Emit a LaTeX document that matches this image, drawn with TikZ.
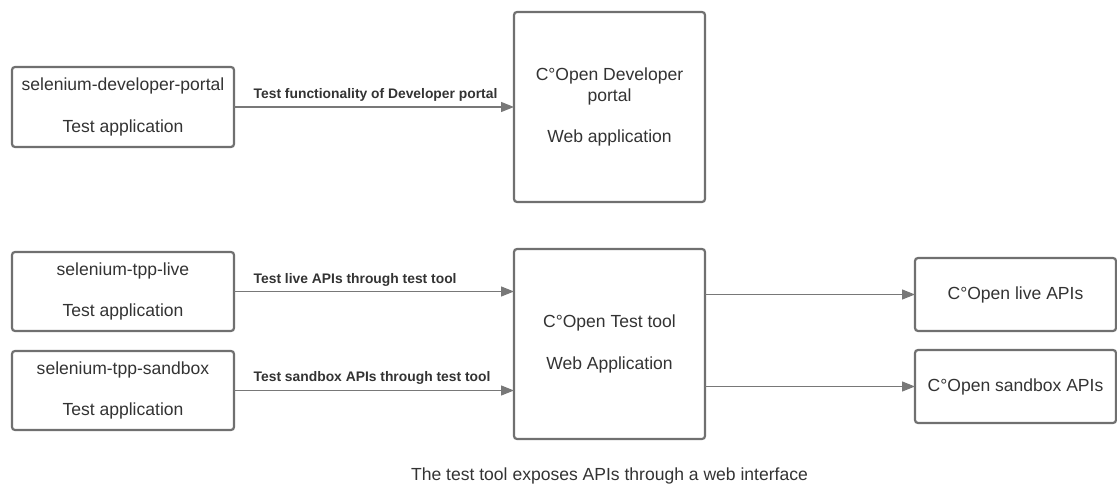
\documentclass[tikz,border=0pt]{standalone}
\usepackage{fontspec}
\setmainfont{Liberation Sans}
\usetikzlibrary{arrows.meta}
\definecolor{ink}{RGB}{51,51,51}
\definecolor{edgegray}{RGB}{112,112,112}
\definecolor{linkgray}{RGB}{120,120,120}
\tikzset{
  flow/.style={-{Triangle[length=13bp,width=10bp]},line width=1.4bp,draw=linkgray},
  app/.style={draw=edgegray,line width=2.2bp,rounded corners=3bp,fill=white,align=center,inner sep=0pt,outer sep=0pt,text=ink,font=\fontsize{17.6}{21}\selectfont},
  flowlabel/.style={anchor=south west,inner sep=0pt,text=ink,font=\fontsize{13.9}{16}\selectfont\bfseries},
  caption/.style={inner sep=0pt,text=ink,font=\fontsize{17.6}{21}\selectfont}
}

\begin{document}
\begin{tikzpicture}[x=1bp,y=-1bp]
  \useasboundingbox (0,0) rectangle (1117,486);
  % test applications
  \node[app,minimum width=222bp,minimum height=80bp] (devtest) at (123,107) {selenium-developer-portal\\[21bp]Test application};
  \node[app,minimum width=222bp,minimum height=79bp] (livetest) at (123,291.5) {selenium-tpp-live\\[21bp]Test application};
  \node[app,minimum width=222bp,minimum height=79bp] (sandtest) at (123,390.5) {selenium-tpp-sandbox\\[21bp]Test application};
  % web applications
  \node[app,minimum width=191bp,minimum height=190bp] (portal) at (609.5,107) {C°Open Developer\\portal\\[21bp]Web application};
  \node[app,minimum width=191bp,minimum height=190bp,text depth=4bp] (testtool) at (609.5,344) {C°Open Test tool\\[21bp]Web Application};
  % APIs
  \node[app,minimum width=201bp,minimum height=73bp] (liveapi) at (1015.5,294.5) {C°Open live APIs};
  \node[app,minimum width=201bp,minimum height=73bp] (sandapi) at (1015.5,386.5) {C°Open sandbox APIs};
  % connectors
  \draw[flow] (devtest.east) -- (portal.west) node[flowlabel,pos=0,xshift=19bp,yshift=4.5bp] {Test functionality of Developer portal};
  \draw[flow] (livetest.east) -- (livetest.east -| testtool.west) node[flowlabel,pos=0,xshift=19bp,yshift=4.5bp] {Test live APIs through test tool};
  \draw[flow] (sandtest.east) -- (sandtest.east -| testtool.west) node[flowlabel,pos=0,xshift=19bp,yshift=5.5bp] {Test sandbox APIs through test tool};
  \draw[flow] (testtool.east |- liveapi.west) -- (liveapi.west);
  \draw[flow] (testtool.east |- sandapi.west) -- (sandapi.west);
  \node[caption] (note) at (609.5,476) {The test tool exposes APIs through a web interface};
\end{tikzpicture}
\end{document}
